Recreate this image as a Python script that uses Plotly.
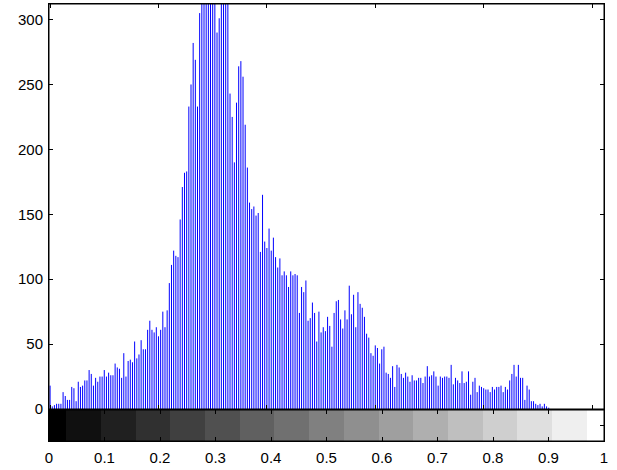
import plotly.graph_objects as go

# Histogram counts for 256 gray-level bins
counts = [
    18, 2, 3, 4, 4, 4, 13, 10, 7, 7,
    17, 16, 6, 21, 17, 18, 22, 22, 30, 27,
    18, 24, 21, 25, 25, 30, 25, 28, 26, 26,
    35, 32, 31, 24, 43, 25, 37, 38, 36, 52,
    39, 42, 53, 46, 46, 61, 68, 61, 59, 63,
    56, 61, 75, 63, 76, 97, 111, 122, 118, 117,
    146, 171, 182, 183, 233, 250, 282, 269, 233, 305,
    340, 360, 330, 350, 380, 345, 330, 290, 301, 335,
    360, 330, 315, 243, 225, 190, 236, 264, 268, 256,
    219, 186, 159, 154, 156, 149, 151, 121, 165, 129,
    124, 139, 122, 132, 117, 109, 116, 103, 106, 103,
    94, 106, 103, 104, 103, 74, 94, 90, 99, 68,
    70, 82, 74, 52, 75, 59, 63, 60, 71, 64,
    48, 74, 83, 84, 69, 62, 76, 69, 95, 73,
    88, 63, 90, 81, 78, 71, 58, 55, 43, 41,
    49, 47, 35, 46, 48, 28, 27, 24, 33, 17,
    34, 32, 27, 24, 28, 25, 21, 26, 22, 22,
    24, 24, 20, 25, 33, 25, 26, 29, 25, 18,
    25, 24, 25, 25, 24, 34, 19, 24, 22, 20,
    29, 20, 21, 29, 11, 21, 24, 13, 18, 17,
    16, 15, 15, 13, 17, 15, 17, 17, 18, 13,
    17, 15, 22, 27, 34, 25, 34, 24, 24, 7,
    18, 15, 6, 6, 4, 3, 4, 2, 4, 2,
    1, 0, 0, 0, 0, 0, 0, 0, 0, 0,
    0, 0, 0, 0, 0, 0, 0, 0, 0, 0,
    0, 0, 0, 0, 0, 0,
]
bins = list(range(256))

hist_xticks = [0, 50, 100, 150, 200, 250]
y_ticks = [0, 50, 100, 150, 200, 250, 300]
cb_ticks = [0, 0.1, 0.2, 0.3, 0.4, 0.5, 0.6, 0.7, 0.8, 0.9, 1]
cb_labels = ["0", "0.1", "0.2", "0.3", "0.4", "0.5", "0.6", "0.7", "0.8", "0.9", "1"]
gray_levels = 16

# stem lines
xs, ys = [], []
for b, c in zip(bins, counts):
    xs += [b, b, None]
    ys += [0, c, None]

fig = go.Figure()
fig.add_trace(go.Scatter(x=xs, y=ys, mode="lines",
                         line=dict(color="#0000ff", width=1),
                         xaxis="x", yaxis="y", hoverinfo="skip", showlegend=False))

# gray colour strip
cx = [(k + 0.5) / 256 for k in range(256)]
cz = [[round(v * gray_levels) / gray_levels for v in cx]]
fig.add_trace(go.Heatmap(x=cx, y=[0], z=cz, zmin=0, zmax=1,
                         colorscale=[[0, "#000000"], [1, "#ffffff"]],
                         showscale=False, xaxis="x2", yaxis="y2", hoverinfo="skip"))

font = dict(family="Liberation Sans, Arial, sans-serif", size=15, color="black")
axcommon = dict(showline=True, linecolor="black", linewidth=1, mirror="ticks",
                ticks="inside", ticklen=4, tickcolor="black", tickwidth=1,
                showgrid=False, zeroline=False, tickfont=font, automargin=False,
                layer="above traces")

H = 437
hist_bottom = 32 / H
cb_top = 31 / H
fig.update_layout(
    template="none",
    width=617, height=470,
    margin=dict(l=49, r=13, t=4, b=29, pad=0),
    paper_bgcolor="white", plot_bgcolor="white",
    font=font,
    xaxis=dict(domain=[0, 1], anchor="y", range=[-0.5, 255.5],
               tickvals=hist_xticks, showticklabels=False, **axcommon),
    yaxis=dict(domain=[hist_bottom, 1], anchor="x", range=[0, 312],
               tickvals=y_ticks, ticklabelstandoff=2, **axcommon),
    xaxis2=dict(domain=[0, 1], anchor="y2", range=[0, 1],
                tickvals=cb_ticks, ticktext=cb_labels, ticklabelstandoff=3, **axcommon),
    yaxis2=dict(domain=[0, cb_top], anchor="x2", range=[-0.5, 0.5],
                tickvals=[0], showticklabels=False, **axcommon),
    shapes=[
        dict(type="rect", xref="paper", yref="paper", x0=0, x1=1, y0=hist_bottom, y1=1,
             line=dict(color="black", width=1), layer="above"),
        dict(type="rect", xref="paper", yref="paper", x0=0, x1=1, y0=0, y1=cb_top,
             line=dict(color="black", width=1), layer="above"),
    ],
)

fig.write_html("out.html", config={"displayModeBar": False},
               post_script="document.body.style.margin='0';document.body.style.overflow='hidden';")
